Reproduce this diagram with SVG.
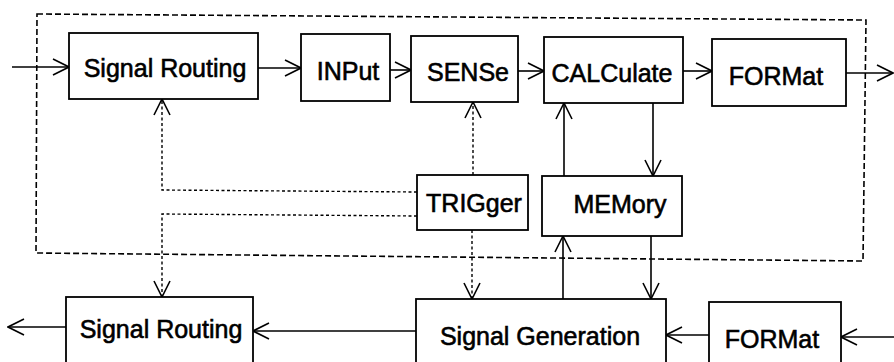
<svg xmlns="http://www.w3.org/2000/svg" width="894" height="362" viewBox="0 0 894 362">
<style>
.box{fill:#fff;stroke:#000;stroke-width:1.8}
.t{font-family:"Liberation Sans",Arial,sans-serif;font-size:25px;fill:#000;stroke:#000;stroke-width:0.6;text-anchor:middle}
.c{fill:none;stroke:#000;stroke-width:1.6}
.d{fill:none;stroke:#000;stroke-width:1.4;stroke-dasharray:3 2.5}
.frame{fill:none;stroke:#000;stroke-width:1.6;stroke-dasharray:6 3}
</style>
<defs>
<marker id="ah" viewBox="0 0 18 18" markerWidth="18" markerHeight="18" markerUnits="userSpaceOnUse" refX="17" refY="9" orient="auto">
<path d="M1,1 L17,9 L1,17" fill="none" stroke="#000" stroke-width="1.6"/>
</marker>
</defs>
<rect width="894" height="362" fill="#fff"/>
<path class="frame" d="M37,14 L866,20 L863,261 L36,253 Z"/>
<g id="connectors">
<line class="c" x1="12" y1="67" x2="69" y2="67" marker-end="url(#ah)"/>
<line class="c" x1="258" y1="68" x2="301" y2="68" marker-end="url(#ah)"/>
<line class="c" x1="390" y1="70" x2="411" y2="70" marker-end="url(#ah)"/>
<line class="c" x1="518" y1="71" x2="544" y2="71" marker-end="url(#ah)"/>
<line class="c" x1="683" y1="71" x2="712" y2="71" marker-end="url(#ah)"/>
<line class="c" x1="846" y1="73" x2="893" y2="73" marker-end="url(#ah)"/>
<line class="c" x1="564" y1="176" x2="564" y2="103" marker-end="url(#ah)"/>
<line class="c" x1="653" y1="103" x2="653" y2="176" marker-end="url(#ah)"/>
<line class="c" x1="563" y1="299" x2="563" y2="236" marker-end="url(#ah)"/>
<line class="c" x1="651" y1="236" x2="651" y2="299" marker-end="url(#ah)"/>
<line class="d" x1="473" y1="175" x2="473" y2="102" marker-end="url(#ah)"/>
<line class="d" x1="472" y1="230" x2="472" y2="299" marker-end="url(#ah)"/>
<polyline class="d" points="417,192 162,190 162,99" marker-end="url(#ah)"/>
<polyline class="d" points="417,216 162,214 162,297" marker-end="url(#ah)"/>
<line class="c" x1="66" y1="327" x2="8" y2="327" marker-end="url(#ah)"/>
<line class="c" x1="416" y1="331" x2="253" y2="331" marker-end="url(#ah)"/>
<line class="c" x1="709" y1="335" x2="666" y2="335" marker-end="url(#ah)"/>
<line class="c" x1="894" y1="337" x2="841" y2="337" marker-end="url(#ah)"/>
</g>
<g id="sr-top"><rect class="box" x="69" y="33" width="189" height="66"/><text class="t" x="165" y="77">Signal Routing</text></g>
<g id="input"><rect class="box" x="301" y="34" width="89" height="67"/><text class="t" x="348" y="80">INPut</text></g>
<g id="sense"><rect class="box" x="411" y="36" width="107" height="66"/><text class="t" x="468" y="81">SENSe</text></g>
<g id="calc"><rect class="box" x="544" y="37" width="139" height="66"/><text class="t" x="612" y="82">CALCulate</text></g>
<g id="format-top"><rect class="box" x="712" y="39" width="134" height="67"/><text class="t" x="776" y="85">FORMat</text></g>
<g id="trigger"><rect class="box" x="417" y="175" width="111" height="55"/><text class="t" x="474" y="212">TRIGger</text></g>
<g id="memory"><rect class="box" x="542" y="176" width="140" height="60"/><text class="t" x="620" y="213">MEMory</text></g>
<g id="sr-bottom"><rect class="box" x="66" y="297" width="187" height="80"/><text class="t" x="161" y="338">Signal Routing</text></g>
<g id="siggen"><rect class="box" x="416" y="299" width="250" height="80"/><text class="t" x="540" y="345">Signal Generation</text></g>
<g id="format-bottom"><rect class="box" x="709" y="302" width="132" height="80"/><text class="t" x="772" y="348">FORMat</text></g>
</svg>
